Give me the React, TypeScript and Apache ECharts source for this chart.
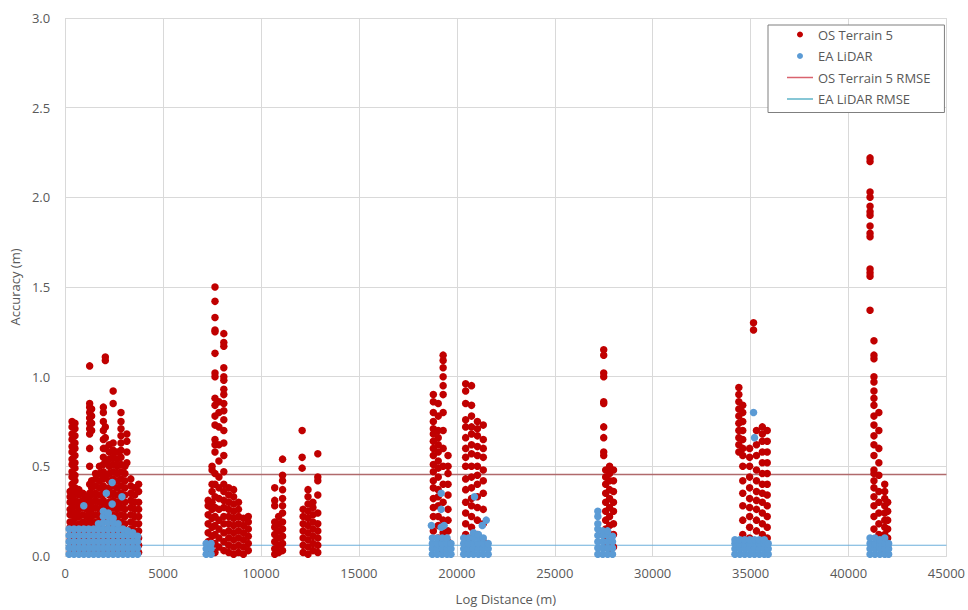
import React, { useEffect, useRef } from "react";
import * as echarts from "echarts";

// Columns of points: [log distance (m), accuracy values (m)]
const osTerrain5Columns: [number, number[]][] = [
  // 0 - 4000 m
  [250, [0.02, 0.05, 0.09, 0.12, 0.16, 0.19, 0.23, 0.26, 0.3, 0.33, 0.36]],
  [350, [0.02, 0.05, 0.09, 0.12, 0.16, 0.19, 0.23, 0.26, 0.3, 0.33, 0.37, 0.4, 0.44, 0.47, 0.51, 0.54, 0.58, 0.61, 0.65, 0.68, 0.72, 0.75]],
  [500, [0.03, 0.07, 0.1, 0.14, 0.17, 0.21, 0.24, 0.28, 0.31, 0.35, 0.38, 0.42, 0.45, 0.49, 0.52, 0.56, 0.6, 0.63, 0.67, 0.71, 0.74]],
  [700, [0.02, 0.06, 0.1, 0.14, 0.18, 0.22, 0.26, 0.3, 0.34, 0.37]],
  [900, [0.03, 0.07, 0.11, 0.15, 0.19, 0.23, 0.27, 0.31, 0.35]],
  [1100, [0.02, 0.06, 0.1, 0.14, 0.18, 0.22, 0.26, 0.3, 0.33]],
  [1250, [0.03, 0.07, 0.11, 0.15, 0.19, 0.23, 0.27, 0.31, 0.35, 0.4, 0.5, 0.6, 0.68, 0.71, 0.74, 0.77, 0.8, 0.83, 0.85, 1.06]],
  [1350, [0.02, 0.06, 0.1, 0.14, 0.18, 0.22, 0.26, 0.3, 0.34, 0.38, 0.42, 0.7, 0.74, 0.78, 0.82]],
  [1550, [0.03, 0.07, 0.11, 0.15, 0.19, 0.23, 0.27, 0.31, 0.35, 0.39, 0.43, 0.46]],
  [1750, [0.02, 0.06, 0.1, 0.14, 0.18, 0.22, 0.26, 0.3, 0.34, 0.38, 0.42, 0.46, 0.5]],
  [1950, [0.03, 0.07, 0.11, 0.15, 0.19, 0.23, 0.27, 0.31, 0.35, 0.39, 0.43, 0.47, 0.51, 0.55, 0.6, 0.65, 0.7, 0.75, 0.8, 0.83]],
  [2050, [0.05, 0.12, 0.2, 0.28, 0.36, 0.44, 0.52, 0.6, 0.66, 0.72, 1.09, 1.11]],
  [2250, [0.02, 0.06, 0.1, 0.14, 0.18, 0.22, 0.26, 0.3, 0.34, 0.38, 0.42, 0.46, 0.5, 0.54, 0.58, 0.62]],
  [2450, [0.03, 0.07, 0.11, 0.15, 0.19, 0.23, 0.27, 0.31, 0.35, 0.39, 0.43, 0.47, 0.51, 0.55, 0.59, 0.63, 0.85, 0.92]],
  [2650, [0.02, 0.06, 0.1, 0.14, 0.18, 0.22, 0.26, 0.3, 0.34, 0.38, 0.42, 0.46, 0.5, 0.54, 0.58]],
  [2850, [0.03, 0.07, 0.11, 0.15, 0.19, 0.23, 0.27, 0.31, 0.35, 0.39, 0.43, 0.47, 0.51, 0.55, 0.59, 0.63, 0.67, 0.71, 0.75, 0.8]],
  [3050, [0.02, 0.06, 0.1, 0.14, 0.18, 0.22, 0.26, 0.3, 0.34, 0.38, 0.42, 0.46, 0.5]],
  [3150, [0.52, 0.58, 0.64, 0.68]],
  [3350, [0.03, 0.07, 0.11, 0.15, 0.19, 0.23, 0.27, 0.31, 0.35, 0.39, 0.43]],
  [3550, [0.02, 0.06, 0.1, 0.14, 0.18, 0.22, 0.26, 0.3, 0.34, 0.38]],
  [3750, [0.02, 0.06, 0.1, 0.14, 0.18, 0.22, 0.26, 0.3, 0.36, 0.4]],
  // 7000 - 9500 m
  [7300, [0.03, 0.08, 0.13, 0.18, 0.23, 0.28, 0.31]],
  [7500, [0.02, 0.06, 0.11, 0.16, 0.21, 0.26, 0.3, 0.36, 0.4, 0.48, 0.5]],
  [7650, [1.5, 1.42, 1.33, 1.26, 1.25, 1.13, 1.02, 1.0, 0.88, 0.84, 0.78, 0.73, 0.65, 0.62, 0.58, 0.46, 0.4, 0.33, 0.27, 0.22, 0.17, 0.12, 0.07, 0.02]],
  [7850, [0.86, 0.8, 0.72, 0.62, 0.53, 0.44, 0.38, 0.32, 0.26, 0.2, 0.15, 0.1, 0.05]],
  [8100, [1.24, 1.19, 1.17, 1.05, 1.0, 0.98, 0.93, 0.9, 0.85, 0.81, 0.76, 0.7, 0.63, 0.56, 0.47, 0.4, 0.36, 0.31, 0.27, 0.22, 0.18, 0.13, 0.08, 0.03]],
  [8350, [0.02, 0.06, 0.1, 0.14, 0.18, 0.22, 0.26, 0.3, 0.34, 0.38]],
  [8600, [0.01, 0.05, 0.09, 0.13, 0.17, 0.21, 0.25, 0.29, 0.33, 0.37]],
  [8850, [0.02, 0.06, 0.1, 0.14, 0.18, 0.22, 0.26, 0.3]],
  [9100, [0.01, 0.05, 0.09, 0.13, 0.17, 0.21]],
  [9350, [0.03, 0.07, 0.11, 0.15, 0.19, 0.22]],
  // 10500 - 13100 m
  [10700, [0.01, 0.04, 0.08, 0.12, 0.16, 0.19, 0.28, 0.31, 0.38]],
  [10900, [0.02, 0.06, 0.1, 0.14, 0.18, 0.22]],
  [11100, [0.03, 0.07, 0.11, 0.15, 0.19, 0.24, 0.28, 0.32, 0.37, 0.42, 0.45, 0.54]],
  [12100, [0.49, 0.55, 0.7]],
  [12150, [0.02, 0.06, 0.1, 0.14, 0.18, 0.22, 0.26]],
  [12400, [0.01, 0.05, 0.09, 0.13, 0.17, 0.21, 0.25, 0.29, 0.33, 0.37]],
  [12650, [0.03, 0.07, 0.11, 0.15, 0.19, 0.23, 0.27, 0.3]],
  [12900, [0.02, 0.06, 0.1, 0.14, 0.18, 0.24, 0.34, 0.42, 0.44, 0.57]],
  // 18600 - 21700 m
  [18800, [0.05, 0.14, 0.22, 0.27, 0.32, 0.38, 0.42, 0.47, 0.51, 0.56, 0.6, 0.64, 0.68, 0.71, 0.75, 0.8, 0.86, 0.9]],
  [19050, [0.04, 0.1, 0.17, 0.22, 0.28, 0.33, 0.37, 0.44, 0.49, 0.53, 0.58, 0.62, 0.66, 0.7, 0.78, 0.85]],
  [19300, [0.06, 0.13, 0.2, 0.3, 0.4, 0.5, 0.6, 0.7, 0.8, 0.9, 0.95, 1.0, 1.05, 1.09, 1.12]],
  [19550, [0.03, 0.08, 0.14, 0.2, 0.26, 0.34, 0.4, 0.46, 0.5, 0.56]],
  [20450, [0.02, 0.07, 0.12, 0.18, 0.24, 0.3, 0.37, 0.43, 0.5, 0.55, 0.6, 0.66, 0.72, 0.76, 0.85, 0.92, 0.96]],
  [20750, [0.04, 0.1, 0.16, 0.22, 0.28, 0.32, 0.38, 0.44, 0.5, 0.57, 0.62, 0.68, 0.72, 0.78, 0.84, 0.95]],
  [21050, [0.05, 0.12, 0.2, 0.27, 0.33, 0.4, 0.45, 0.5, 0.56, 0.61, 0.67, 0.71, 0.75]],
  [21350, [0.08, 0.18, 0.26, 0.35, 0.42, 0.48, 0.55, 0.6, 0.65, 0.73]],
  // 27000 - 28100 m
  [27500, [1.15, 1.12, 1.02, 1.0, 0.86, 0.85, 0.72, 0.66, 0.58, 0.56]],
  [27600, [0.05, 0.1, 0.15, 0.2, 0.25, 0.3, 0.35, 0.4, 0.44, 0.48]],
  [27800, [0.02, 0.07, 0.12, 0.17, 0.22, 0.27, 0.32, 0.37, 0.42, 0.46, 0.5]],
  [28000, [0.05, 0.12, 0.18, 0.25, 0.3, 0.36, 0.42, 0.48]],
  // 34100 - 36000 m
  [34400, [0.58, 0.62, 0.66, 0.7, 0.74, 0.78, 0.82, 0.86, 0.9, 0.94]],
  [34600, [0.12, 0.2, 0.28, 0.35, 0.42, 0.5, 0.56, 0.6, 0.65, 0.7, 0.75, 0.8, 0.84]],
  [34950, [0.1, 0.16, 0.22, 0.27, 0.32, 0.38, 0.44, 0.5, 0.55, 0.6]],
  [35150, [1.26, 1.3]],
  [35300, [0.08, 0.14, 0.2, 0.26, 0.31, 0.36, 0.42, 0.48, 0.56, 0.62, 0.7]],
  [35600, [0.06, 0.12, 0.18, 0.24, 0.3, 0.35, 0.4, 0.46, 0.52, 0.58, 0.64, 0.68, 0.72]],
  [35850, [0.1, 0.16, 0.22, 0.28, 0.34, 0.4, 0.46, 0.52, 0.58, 0.64, 0.7]],
  // 41000 - 42100 m
  [41100, [2.22, 2.2, 2.03, 2.0, 1.95, 1.92, 1.9, 1.84, 1.8, 1.78, 1.6, 1.58, 1.56, 1.37]],
  [41300, [1.2, 1.12, 1.1, 1.0, 0.97, 0.92, 0.88, 0.84, 0.78, 0.73, 0.67, 0.62, 0.56, 0.48, 0.46, 0.42, 0.38, 0.33, 0.28, 0.22, 0.15]],
  [41550, [0.8, 0.7, 0.6, 0.52, 0.45, 0.36, 0.3, 0.24, 0.18, 0.12]],
  [41850, [0.4, 0.36, 0.32, 0.28, 0.24, 0.2, 0.16, 0.12, 0.08, 0.04]],
  [42000, [0.3, 0.25, 0.2, 0.15, 0.1, 0.05]],
];

const eaLidarColumns: [number, number[]][] = [
  [200, [0.01, 0.045, 0.08, 0.115, 0.15]],
  [450, [0.01, 0.045, 0.08, 0.115, 0.15]],
  [700, [0.01, 0.045, 0.08, 0.115, 0.15]],
  [950, [0.01, 0.045, 0.08, 0.115, 0.15, 0.28]],
  [1200, [0.01, 0.045, 0.08, 0.115, 0.15]],
  [1450, [0.01, 0.045, 0.08, 0.115, 0.15]],
  [1700, [0.01, 0.045, 0.08, 0.115, 0.15, 0.18]],
  [1950, [0.01, 0.045, 0.08, 0.115, 0.15, 0.185, 0.22, 0.25]],
  [2100, [0.35]],
  [2200, [0.01, 0.045, 0.08, 0.115, 0.15, 0.185, 0.22, 0.24]],
  [2400, [0.29, 0.41]],
  [2450, [0.01, 0.045, 0.08, 0.115, 0.15, 0.185, 0.21]],
  [2700, [0.01, 0.045, 0.08, 0.115, 0.15, 0.18]],
  [2900, [0.33]],
  [2950, [0.01, 0.045, 0.08, 0.115, 0.15]],
  [3200, [0.01, 0.045, 0.08, 0.115, 0.14]],
  [3450, [0.01, 0.045, 0.08, 0.115, 0.13]],
  [3700, [0.01, 0.045, 0.08, 0.11]],
  [7200, [0.01, 0.04, 0.07]],
  [7450, [0.01, 0.04, 0.07]],
  [18700, [0.17]],
  [18750, [0.01, 0.04, 0.07, 0.1]],
  [19000, [0.01, 0.04, 0.07, 0.1]],
  [19200, [0.16, 0.26, 0.35]],
  [19250, [0.01, 0.04, 0.07, 0.1]],
  [19350, [0.17]],
  [19500, [0.01, 0.04, 0.07, 0.1]],
  [19700, [0.01, 0.04, 0.07]],
  [20350, [0.01, 0.04, 0.07, 0.1]],
  [20600, [0.01, 0.04, 0.07, 0.1]],
  [20850, [0.01, 0.04, 0.07, 0.1, 0.13]],
  [20900, [0.33]],
  [21100, [0.01, 0.04, 0.07, 0.1, 0.12]],
  [21300, [0.17]],
  [21350, [0.01, 0.04, 0.07, 0.1]],
  [21500, [0.2]],
  [21600, [0.01, 0.04, 0.07]],
  [27200, [0.01, 0.045, 0.08, 0.115, 0.15, 0.18, 0.22, 0.25]],
  [27450, [0.01, 0.045, 0.08, 0.115, 0.14]],
  [27700, [0.01, 0.045, 0.08, 0.115, 0.14]],
  [27950, [0.01, 0.045, 0.08, 0.11]],
  [34200, [0.01, 0.04, 0.07, 0.09]],
  [34450, [0.01, 0.04, 0.07, 0.09]],
  [34700, [0.01, 0.04, 0.07, 0.09]],
  [34950, [0.01, 0.04, 0.07, 0.09]],
  [35150, [0.8]],
  [35200, [0.01, 0.04, 0.07, 0.09, 0.66]],
  [35450, [0.01, 0.04, 0.07, 0.09]],
  [35700, [0.01, 0.04, 0.07, 0.09]],
  [35900, [0.01, 0.04, 0.07]],
  [41100, [0.01, 0.04, 0.07, 0.1]],
  [41350, [0.01, 0.04, 0.07, 0.1]],
  [41600, [0.01, 0.04, 0.07, 0.09]],
  [41850, [0.01, 0.04, 0.07, 0.1]],
  [42050, [0.01, 0.04, 0.07]],
];

const osTerrain5Rmse = 0.455;
const eaLidarRmse = 0.06;
const xRange = [0, 45000];

const seriesNames = ["OS Terrain 5", "EA LiDAR", "OS Terrain 5 RMSE", "EA LiDAR RMSE"];

const toPoints = (cols: [number, number[]][]) =>
  cols.flatMap(([x, ys]) => ys.map((y) => [x, y]));

const lineIcon = "path://M0 0H52V3H0Z";

export default function App() {
  const ref = useRef<HTMLDivElement>(null);

  useEffect(() => {
    if (!ref.current) return;
    const chart = echarts.init(ref.current, undefined, { renderer: "svg" });
    const textColor = "#595959";
    const font = "'Open Sans', 'Noto Sans', sans-serif";
    chart.setOption({
      animation: false,
      backgroundColor: "#ffffff",
      textStyle: { fontFamily: font },
      grid: { left: 61, right: 14, top: 18, bottom: 53, containLabel: false },
      legend: {
        data: [
          { name: seriesNames[0], icon: "circle" },
          { name: seriesNames[1], icon: "circle" },
          { name: seriesNames[2], icon: lineIcon },
          { name: seriesNames[3], icon: lineIcon },
        ],
        orient: "vertical",
        left: 768,
        top: 25,
        padding: [3, 14, 7, 19],
        itemWidth: 26,
        itemHeight: 6,
        itemGap: 8.5,
        backgroundColor: "#ffffff",
        borderColor: "#7f7f7f",
        borderWidth: 1,
        textStyle: { color: textColor, fontSize: 13, fontFamily: font },
      },
      xAxis: {
        type: "value",
        min: xRange[0],
        max: xRange[1],
        interval: 5000,
        name: "Log Distance (m)",
        nameLocation: "middle",
        nameGap: 36,
        nameTextStyle: { color: textColor, fontSize: 13 },
        axisLine: { show: true, lineStyle: { color: "#d9d9d9" } },
        axisTick: { show: false },
        axisLabel: {
          color: textColor,
          fontSize: 13,
          margin: 10,
          formatter: (v: number) => String(v),
        },
        splitLine: { show: true, lineStyle: { color: "#d9d9d9" } },
      },
      yAxis: {
        type: "value",
        min: 0,
        max: 3,
        interval: 0.5,
        name: "Accuracy (m)",
        nameLocation: "middle",
        nameGap: 40,
        nameTextStyle: { color: textColor, fontSize: 13 },
        axisLine: { show: false },
        axisTick: { show: false },
        axisLabel: {
          color: textColor,
          fontSize: 13,
          margin: 15,
          formatter: (v: number) => v.toFixed(1),
        },
        splitLine: { show: true, lineStyle: { color: "#d9d9d9" } },
      },
      series: [
        {
          name: seriesNames[0],
          type: "scatter",
          symbol: "circle",
          symbolSize: 7.5,
          z: 3,
          itemStyle: { color: "#c00000", opacity: 1 },
          data: toPoints(osTerrain5Columns),
        },
        {
          name: seriesNames[1],
          type: "scatter",
          symbol: "circle",
          symbolSize: 7.5,
          z: 4,
          itemStyle: { color: "#5b9bd5", opacity: 1 },
          data: toPoints(eaLidarColumns),
        },
        {
          name: seriesNames[2],
          type: "line",
          symbol: "none",
          z: 1,
          lineStyle: { color: "#b06a6c", width: 1.5 },
          itemStyle: { color: "#d9636e" },
          data: [
            [xRange[0], osTerrain5Rmse],
            [xRange[1], osTerrain5Rmse],
          ],
        },
        {
          name: seriesNames[3],
          type: "line",
          symbol: "none",
          z: 1,
          lineStyle: { color: "#6aaedb", width: 1 },
          itemStyle: { color: "#5fb4c8" },
          data: [
            [xRange[0], eaLidarRmse],
            [xRange[1], eaLidarRmse],
          ],
        },
      ],
    });
    return () => chart.dispose();
  }, []);

  return (
    <div
      ref={ref}
      style={{ position: "absolute", left: 0, top: 0, width: 968, height: 610 }}
    />
  );
}
